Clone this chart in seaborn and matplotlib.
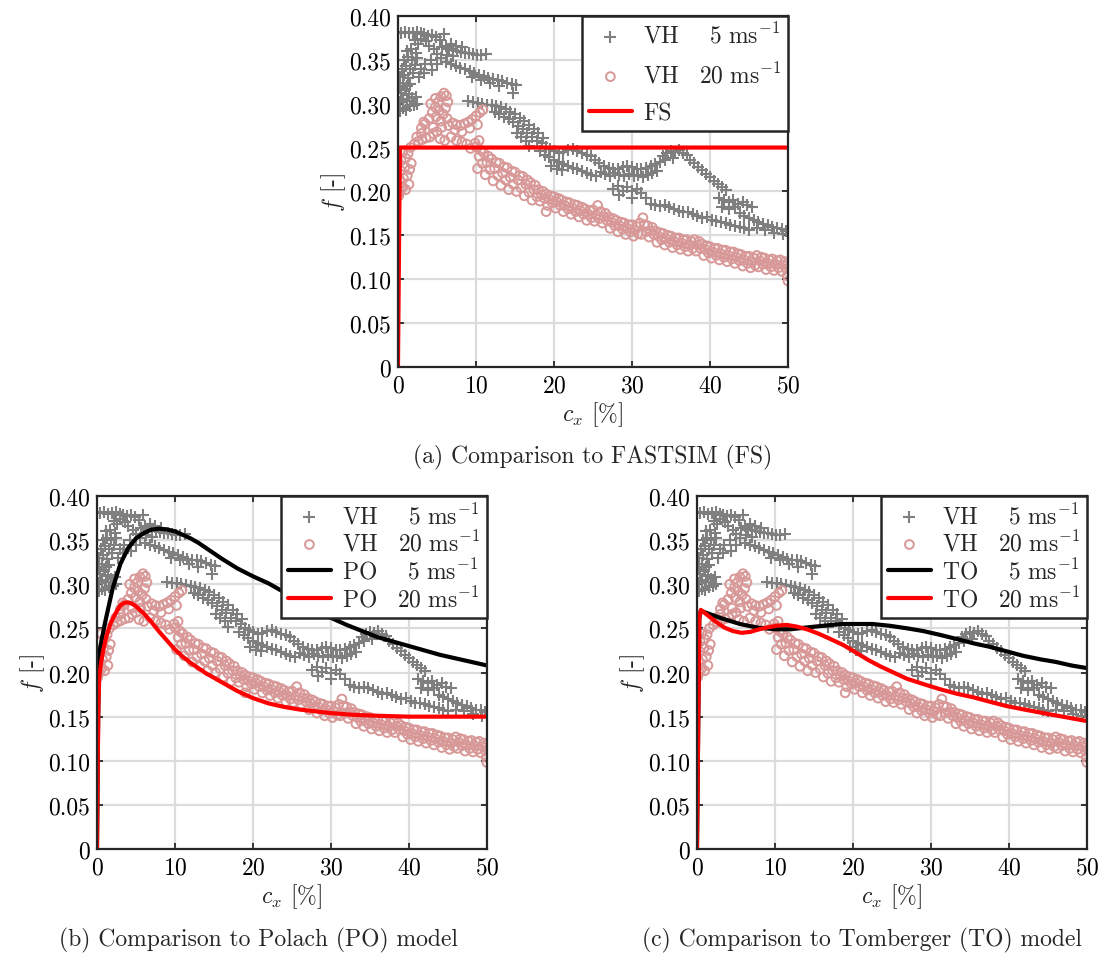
import matplotlib
matplotlib.use("Agg")
import matplotlib.pyplot as plt
from matplotlib.ticker import FuncFormatter
import seaborn as sns
import pandas as pd

# ---------------- data ----------------
# VH measurement, 5 m/s  (c_x [%], f [-])
vh5_pts = [
    (0.3,0.292),(0.6,0.295),(1.0,0.293),(1.5,0.297),(2.0,0.298),(2.5,0.300),
    (0.3,0.302),(0.7,0.305),(1.2,0.303),(1.8,0.306),(2.3,0.308),
    (0.4,0.312),(0.9,0.315),(1.4,0.311),(0.2,0.320),(0.6,0.323),(1.1,0.320),(1.6,0.322),
    (0.3,0.330),(0.8,0.333),(1.3,0.329),(1.9,0.335),(0.5,0.340),(1.0,0.343),(1.5,0.340),(2.2,0.344),
    (0.8,0.350),(1.3,0.353),(1.8,0.350),(2.4,0.352),(1.1,0.360),(1.7,0.362),(2.3,0.358),
    (0.4,0.381),(0.9,0.382),(1.4,0.380),(1.9,0.381),(2.4,0.382),(2.9,0.380),(3.4,0.379),
    (3.9,0.377),(4.4,0.378),(4.9,0.376),(5.4,0.373),(5.9,0.379),(3.0,0.374),(3.6,0.371),(2.2,0.372),
    (2.6,0.368),(4.0,0.366),(4.6,0.362),(5.0,0.357),(4.2,0.350),(3.5,0.345),(2.9,0.340),
    (3.3,0.335),(2.7,0.330),(4.3,0.338),(5.0,0.345),(5.5,0.352),
    (5.6,0.364),(6.1,0.366),(6.6,0.362),(7.1,0.361),(7.6,0.360),(8.1,0.359),(8.6,0.358),
    (9.1,0.358),(9.6,0.357),(10.1,0.356),(10.7,0.356),(11.3,0.357),(6.3,0.356),(7.0,0.354),
    (6.8,0.368),(7.5,0.366),(8.2,0.364),
    (6.2,0.347),(6.8,0.345),(7.4,0.343),(8.0,0.341),(8.6,0.339),(9.2,0.337),(9.8,0.335),
    (10.4,0.333),(11.0,0.331),(11.6,0.329),(12.2,0.328),(12.8,0.327),(13.4,0.326),(14.0,0.324),
    (14.6,0.322),(15.1,0.321),(14.7,0.312),(9.5,0.330),(10.6,0.327),(11.8,0.323),(13.0,0.320),
    (9.0,0.303),(9.6,0.302),(10.2,0.301),(10.8,0.300),(11.4,0.299),(12.0,0.298),(12.6,0.297),
    (13.2,0.296),(13.8,0.294),(14.4,0.291),(15.0,0.288),(15.6,0.284),(16.2,0.280),(16.8,0.276),
    (17.4,0.271),(18.0,0.266),(18.6,0.261),(12.4,0.290),(13.0,0.288),(13.6,0.285),(14.2,0.282),
    (14.8,0.279),(15.4,0.275),(16.0,0.271),(16.6,0.267),(17.2,0.262),(17.8,0.258),(15.2,0.266),
    (15.8,0.262),(16.4,0.258),(16.8,0.252),
    (18.5,0.255),(19.0,0.251),(19.5,0.248),(20.0,0.246),(20.6,0.244),(21.2,0.245),(21.8,0.247),
    (22.4,0.248),(23.0,0.246),(23.6,0.244),(24.2,0.242),(24.8,0.240),
    (18.2,0.246),(18.8,0.242),(19.4,0.239),(20.0,0.236),(20.6,0.233),(21.2,0.231),(21.8,0.229),
    (22.4,0.227),(23.0,0.225),(23.6,0.223),(24.2,0.221),(24.8,0.219),(25.4,0.218),
    (19.6,0.229),(20.4,0.226),(21.0,0.224),
    (25.2,0.236),(25.8,0.232),(26.4,0.229),(27.0,0.227),(27.6,0.225),(28.2,0.226),(28.8,0.228),
    (29.4,0.229),(30.0,0.228),(30.6,0.226),(31.2,0.225),(31.8,0.227),(32.4,0.229),(33.0,0.231),
    (33.6,0.234),
    (26.0,0.222),(26.6,0.220),(27.2,0.218),(27.8,0.221),(28.4,0.219),(29.0,0.218),(29.6,0.220),
    (30.2,0.218),(30.8,0.219),(31.4,0.217),(32.0,0.219),(32.6,0.221),(33.2,0.223),
    (34.0,0.240),(34.5,0.244),(35.0,0.246),(35.5,0.245),(36.0,0.247),(36.5,0.244),(37.0,0.241),
    (37.5,0.236),(34.2,0.236),(35.2,0.238),
    (38.0,0.232),(38.5,0.228),(39.0,0.224),(39.5,0.220),(40.0,0.216),(40.5,0.212),(41.0,0.208),
    (41.5,0.205),(42.0,0.202),
    (41.2,0.193),(41.8,0.190),(42.4,0.188),(43.0,0.190),(43.6,0.186),(44.2,0.188),(44.8,0.184),
    (45.4,0.182),(41.6,0.182),(42.4,0.180),(43.2,0.182),
    (43.8,0.175),(44.4,0.172),(45.0,0.170),(45.6,0.168),(46.2,0.165),(46.8,0.163),(47.4,0.162),
    (48.0,0.160),(48.6,0.158),(49.2,0.157),(49.8,0.155),(46.0,0.158),(47.0,0.156),(48.2,0.153),
    (49.4,0.151),
    (27.6,0.203),(28.2,0.206),(28.8,0.201),(29.4,0.205),(30.0,0.200),(30.6,0.203),(31.2,0.198),
    (31.8,0.193),(28.4,0.196),(30.0,0.193),
    (32.4,0.186),(33.0,0.184),(33.6,0.183),(34.2,0.184),(34.8,0.182),(35.4,0.180),(36.0,0.178),
    (36.6,0.176),(37.2,0.177),(37.8,0.174),(38.4,0.172),(39.0,0.170),(39.6,0.171),(40.2,0.168),
    (40.8,0.166),(41.4,0.165),(42.0,0.164),(42.6,0.162),(43.2,0.161),(43.8,0.160),(44.4,0.158),
    (45.0,0.156),
]

# VH measurement, 20 m/s
vh20_pts = [
    (0.1,0.195),(0.3,0.200),(0.6,0.205),(1.0,0.202),(1.4,0.208),(0.2,0.212),(0.7,0.215),
    (1.2,0.218),(0.3,0.224),(0.9,0.228),(1.5,0.225),(0.4,0.235),(1.0,0.238),(0.6,0.244),
    (1.3,0.243),(1.7,0.232),
    (1.6,0.250),(2.1,0.254),(2.6,0.257),(3.1,0.259),(3.6,0.261),(4.1,0.262),(2.4,0.262),
    (3.0,0.266),(4.5,0.266),
    (3.0,0.272),(3.5,0.277),(4.0,0.283),(4.4,0.290),(4.8,0.296),(5.2,0.302),(5.5,0.308),
    (5.9,0.312),(6.2,0.309),(6.4,0.302),(6.1,0.295),(5.8,0.288),(6.3,0.283),(5.5,0.280),
    (4.9,0.285),(3.3,0.279),(4.5,0.273),(5.0,0.268),(5.6,0.273),(6.5,0.275),(4.8,0.306),
    (4.2,0.300),(5.3,0.292),
    (7.0,0.278),(7.5,0.276),(8.0,0.275),(8.5,0.277),(9.0,0.279),(9.5,0.282),(10.0,0.286),
    (10.5,0.290),(10.9,0.293),(7.3,0.270),(8.2,0.268),(9.2,0.272),(10.2,0.276),
    (6.8,0.262),(7.5,0.258),(8.2,0.256),(8.8,0.254),(9.3,0.249),(9.9,0.255),(10.4,0.258),
    (6.0,0.258),(5.4,0.260),
    (10.0,0.251),(10.2,0.226),(10.4,0.240),(10.6,0.247),(10.8,0.232),
    (11.0,0.244),(11.2,0.219),(11.4,0.233),(11.6,0.240),(11.8,0.225),
    (12.0,0.237),(12.2,0.212),(12.4,0.226),(12.6,0.233),(12.8,0.218),
    (13.0,0.232),(13.2,0.207),(13.4,0.221),(13.6,0.228),(13.8,0.213),
    (14.0,0.227),(14.2,0.202),(14.4,0.216),(14.6,0.223),(14.8,0.208),
    (15.0,0.222),(15.2,0.200),(15.4,0.213),(15.6,0.218),(15.8,0.204),
    (16.0,0.217),(16.2,0.195),(16.4,0.208),(16.6,0.213),(16.8,0.199),
    (17.0,0.210),(17.2,0.190),(17.4,0.202),(17.6,0.207),(17.8,0.194),
    (18.0,0.202),(18.2,0.189),(18.4,0.196),(18.6,0.200),(18.8,0.192),(19.0,0.177),
    (19.0,0.197),(19.2,0.184),(19.4,0.191),(19.6,0.195),(19.8,0.187),
    (20.0,0.194),(20.2,0.181),(20.4,0.188),(20.6,0.192),(20.8,0.184),
    (21.0,0.190),(21.2,0.177),(21.4,0.184),(21.6,0.188),(21.8,0.180),
    (22.0,0.187),(22.2,0.174),(22.4,0.181),(22.6,0.185),(22.8,0.177),
    (23.0,0.184),(23.2,0.171),(23.4,0.178),(23.6,0.182),(23.8,0.174),
    (24.0,0.180),(24.2,0.167),(24.4,0.174),(24.6,0.178),(24.8,0.170),
    (25.0,0.179),(25.2,0.166),(25.4,0.173),(25.6,0.184),(25.8,0.169),
    (26.0,0.177),(26.2,0.164),(26.4,0.171),(26.6,0.175),(26.8,0.167),
    (27.0,0.171),(27.2,0.158),(27.4,0.165),(27.6,0.169),(27.8,0.161),
    (28.0,0.167),(28.2,0.154),(28.4,0.161),(28.6,0.165),(28.8,0.157),
    (29.0,0.164),(29.2,0.151),(29.4,0.158),(29.6,0.162),(29.8,0.154),
    (30.0,0.162),(30.2,0.149),(30.4,0.156),(30.6,0.160),(30.8,0.152),
    (31.0,0.164),(31.2,0.151),(31.4,0.170),(31.6,0.162),(31.8,0.154),
    (32.0,0.161),(32.2,0.148),(32.4,0.155),(32.6,0.159),(32.8,0.151),
    (33.0,0.155),(33.2,0.142),(33.4,0.149),(33.6,0.153),(33.8,0.145),
    (34.0,0.152),(34.2,0.139),(34.4,0.146),(34.6,0.150),(34.8,0.142),
    (35.0,0.149),(35.2,0.136),(35.4,0.143),(35.6,0.147),(35.8,0.139),
    (36.0,0.147),(36.2,0.134),(36.4,0.141),(36.6,0.145),(36.8,0.137),
    (37.0,0.145),(37.2,0.132),(37.4,0.139),(37.6,0.143),(37.8,0.135),
    (38.0,0.145),(38.2,0.132),(38.4,0.139),(38.6,0.143),(38.8,0.135),
    (39.0,0.140),(39.2,0.127),(39.4,0.134),(39.6,0.138),(39.8,0.130),
    (40.0,0.137),(40.2,0.124),(40.4,0.131),(40.6,0.135),(40.8,0.127),
    (41.0,0.135),(41.2,0.122),(41.4,0.129),(41.6,0.133),(41.8,0.125),
    (42.0,0.133),(42.2,0.120),(42.4,0.127),(42.6,0.131),(42.8,0.123),
    (43.0,0.131),(43.2,0.118),(43.4,0.125),(43.6,0.129),(43.8,0.121),
    (44.0,0.128),(44.2,0.115),(44.4,0.122),(44.6,0.126),(44.8,0.118),
    (45.0,0.126),(45.2,0.113),(45.4,0.120),(45.6,0.124),(45.8,0.116),
    (46.0,0.127),(46.2,0.114),(46.4,0.121),(46.6,0.125),(46.8,0.117),
    (47.0,0.124),(47.2,0.111),(47.4,0.118),(47.6,0.122),(47.8,0.114),
    (48.0,0.123),(48.2,0.110),(48.4,0.117),(48.6,0.121),(48.8,0.113),
    (49.0,0.122),(49.2,0.109),(49.4,0.116),(49.6,0.120),(49.8,0.112),
    (50.0,0.118),(49.9,0.104),(50.0,0.098),
]

# FASTSIM
fs_x = [0.0, 0.25, 50.0]
fs_f = [0.0, 0.25, 0.25]

# Polach
po5_x = [0.0, 0.15, 0.3, 0.6, 1.0, 2.0, 3.0, 4.0, 5.0, 6.0, 7.0, 8.0, 9.0, 10.0, 11.0, 12.0,
         13.0, 14.0, 15.0, 16.0, 18.0, 20.0, 22.0, 24.0, 26.0, 28.0, 30.0, 32.0, 34.0, 36.0,
         38.0, 40.0, 42.0, 44.0, 46.0, 48.0, 50.0]
po5_f = [0.0, 0.15, 0.222, 0.237, 0.255, 0.295, 0.323, 0.341, 0.352, 0.358, 0.362, 0.363,
         0.362, 0.360, 0.356, 0.352, 0.347, 0.341, 0.335, 0.329, 0.318, 0.309, 0.301, 0.291,
         0.281, 0.271, 0.262, 0.254, 0.247, 0.240, 0.235, 0.230, 0.225, 0.220, 0.216, 0.212,
         0.208]
po20_x = [0.0, 0.1, 0.2, 0.3, 0.5, 0.8, 1.2, 1.8, 2.5, 3.0, 3.5, 4.0, 4.5, 5.0, 6.0, 7.0, 8.0,
          9.0, 10.0, 11.0, 12.0, 13.0, 14.0, 15.0, 16.0, 17.0, 18.0, 19.0, 20.0, 21.0, 22.0,
          23.0, 24.0, 26.0, 28.0, 30.0, 33.0, 36.0, 40.0, 45.0, 50.0]
po20_f = [0.0, 0.10, 0.17, 0.195, 0.21, 0.225, 0.241, 0.257, 0.269, 0.276, 0.279, 0.2795,
          0.278, 0.275, 0.267, 0.257, 0.246, 0.236, 0.226, 0.218, 0.211, 0.205, 0.199, 0.194,
          0.189, 0.184, 0.179, 0.175, 0.171, 0.168, 0.165, 0.163, 0.161, 0.158, 0.156, 0.154,
          0.152, 0.151, 0.150, 0.150, 0.150]

# Tomberger
to5_x = [0.0, 0.3, 0.5, 2.0, 3.3, 5.5, 7.7, 10.0, 12.0, 14.0, 16.2, 18.5, 20.5, 22.5, 24.7,
         27.0, 29.0, 31.0, 33.3, 35.5, 37.6, 39.7, 41.8, 44.0, 46.0, 48.0, 50.0]
to5_f = [0.0, 0.262, 0.270, 0.265, 0.261, 0.255, 0.251, 0.249, 0.249, 0.251, 0.253, 0.255,
         0.255, 0.255, 0.253, 0.250, 0.247, 0.243, 0.238, 0.233, 0.229, 0.224, 0.219, 0.215,
         0.212, 0.208, 0.205]
to20_x = [0.0, 0.3, 0.5, 1.5, 2.5, 3.5, 4.6, 5.7, 6.8, 8.0, 9.0, 10.2, 11.5, 12.8, 14.1, 15.6,
          17.1, 18.8, 20.5, 22.0, 23.5, 25.2, 26.9, 29.0, 31.2, 33.3, 35.4, 37.5, 39.7, 42.0,
          45.0, 47.5, 50.0]
to20_f = [0.0, 0.262, 0.271, 0.264, 0.257, 0.251, 0.247, 0.245, 0.246, 0.249, 0.251, 0.253,
          0.254, 0.252, 0.249, 0.244, 0.238, 0.231, 0.222, 0.214, 0.207, 0.200, 0.193, 0.187,
          0.181, 0.176, 0.172, 0.167, 0.162, 0.158, 0.153, 0.149, 0.145]

x_ticks = [0, 10, 20, 30, 40, 50]
y_ticks = [0, 0.05, 0.10, 0.15, 0.20, 0.25, 0.30, 0.35, 0.40]

captions = ["(a) Comparison to FASTSIM (FS)",
            "(b) Comparison to Polach (PO) model",
            "(c) Comparison to Tomberger (TO) model"]

# ---------------- style ----------------
sns.set_style("ticks")
plt.rcParams["font.family"] = ["cmr10"]
plt.rcParams["mathtext.fontset"] = "cm"
plt.rcParams["axes.unicode_minus"] = False
plt.rcParams["axes.formatter.use_mathtext"] = True

GRAY = "#7f7f7f"
PINK = "#d89898"
DARK = "#262626"
FS = 17

vh5 = pd.DataFrame(vh5_pts, columns=["cx", "f"])
vh20 = pd.DataFrame(vh20_pts, columns=["cx", "f"])

fig = plt.figure(figsize=(11.07, 9.54), dpi=100)
axA = fig.add_axes([0.3595, 0.6143, 0.3523, 0.368])
axB = fig.add_axes([0.0876, 0.1090, 0.3523, 0.370])
axC = fig.add_axes([0.6296, 0.1090, 0.3523, 0.370])


def lab(name, speed):
    if speed == "5":
        return r"$\mathrm{%s\quad\enspace 5\ ms^{-1}}$" % name
    return r"$\mathrm{%s\quad 20\ ms^{-1}}$" % name


def base(ax):
    sns.scatterplot(data=vh5, x="cx", y="f", marker="+", s=85, color=GRAY,
                    linewidth=1.5, label=lab("VH", "5"), ax=ax, zorder=2)
    sns.scatterplot(data=vh20, x="cx", y="f", marker="o", s=40, color=PINK,
                    label=lab("VH", "20"), ax=ax, zorder=2)
    coll = ax.collections[-1]
    coll.set_facecolor("none")
    coll.set_edgecolor(PINK)
    coll.set_linewidth(1.4)


def style(ax, spacing):
    ax.set_xlim(0, 50)
    ax.set_ylim(0, 0.40)
    ax.set_xticks(x_ticks)
    ax.set_yticks(y_ticks)
    ax.yaxis.set_major_formatter(FuncFormatter(lambda v, p: "0" if abs(v) < 1e-9 else f"{v:.2f}"))
    ax.grid(True, color="#dcdcdc", lw=1.6)
    ax.set_axisbelow(True)
    for sp in ax.spines.values():
        sp.set_visible(True)
        sp.set_linewidth(1.6)
        sp.set_color(DARK)
        sp.set_zorder(5)
    ax.tick_params(direction="in", top=True, right=True, length=4, width=1.3,
                   color=DARK, labelsize=FS, labelcolor="black", pad=5)
    ax.set_xlabel(r"$c_x$ [%]", fontsize=FS, labelpad=2)
    ax.set_ylabel(r"$f$ [-]", fontsize=FS, labelpad=1)
    leg = ax.legend(loc="upper right", borderaxespad=0, fontsize=FS, frameon=True,
                    fancybox=False, framealpha=1, edgecolor=DARK, handlelength=1.85,
                    handletextpad=0.45, labelspacing=spacing, borderpad=0.28)
    leg.get_frame().set_linewidth(1.8)
    leg.set_zorder(10)


# (a)
base(axA)
sns.lineplot(x=fs_x, y=fs_f, color="red", lw=3, label="FS", ax=axA,
             sort=False, estimator=None, zorder=3)
style(axA, 0.62)

# (b)
base(axB)
sns.lineplot(x=po5_x, y=po5_f, color="black", lw=3, label=lab("PO", "5"), ax=axB,
             sort=False, estimator=None, zorder=3)
sns.lineplot(x=po20_x, y=po20_f, color="red", lw=3, label=lab("PO", "20"), ax=axB,
             sort=False, estimator=None, zorder=3)
style(axB, 0.1)

# (c)
base(axC)
sns.lineplot(x=to5_x, y=to5_f, color="black", lw=3, label=lab("TO", "5"), ax=axC,
             sort=False, estimator=None, zorder=3)
sns.lineplot(x=to20_x, y=to20_f, color="red", lw=3, label=lab("TO", "20"), ax=axC,
             sort=False, estimator=None, zorder=3)
style(axC, 0.1)

fig.text(593 / 1107, 1 - 457 / 954, captions[0], ha="center", va="center", fontsize=FS)
fig.text(258 / 1107, 1 - 940 / 954, captions[1], ha="center", va="center", fontsize=FS)
fig.text(862 / 1107, 1 - 940 / 954, captions[2], ha="center", va="center", fontsize=FS)

fig.savefig("out.png", dpi=100)
